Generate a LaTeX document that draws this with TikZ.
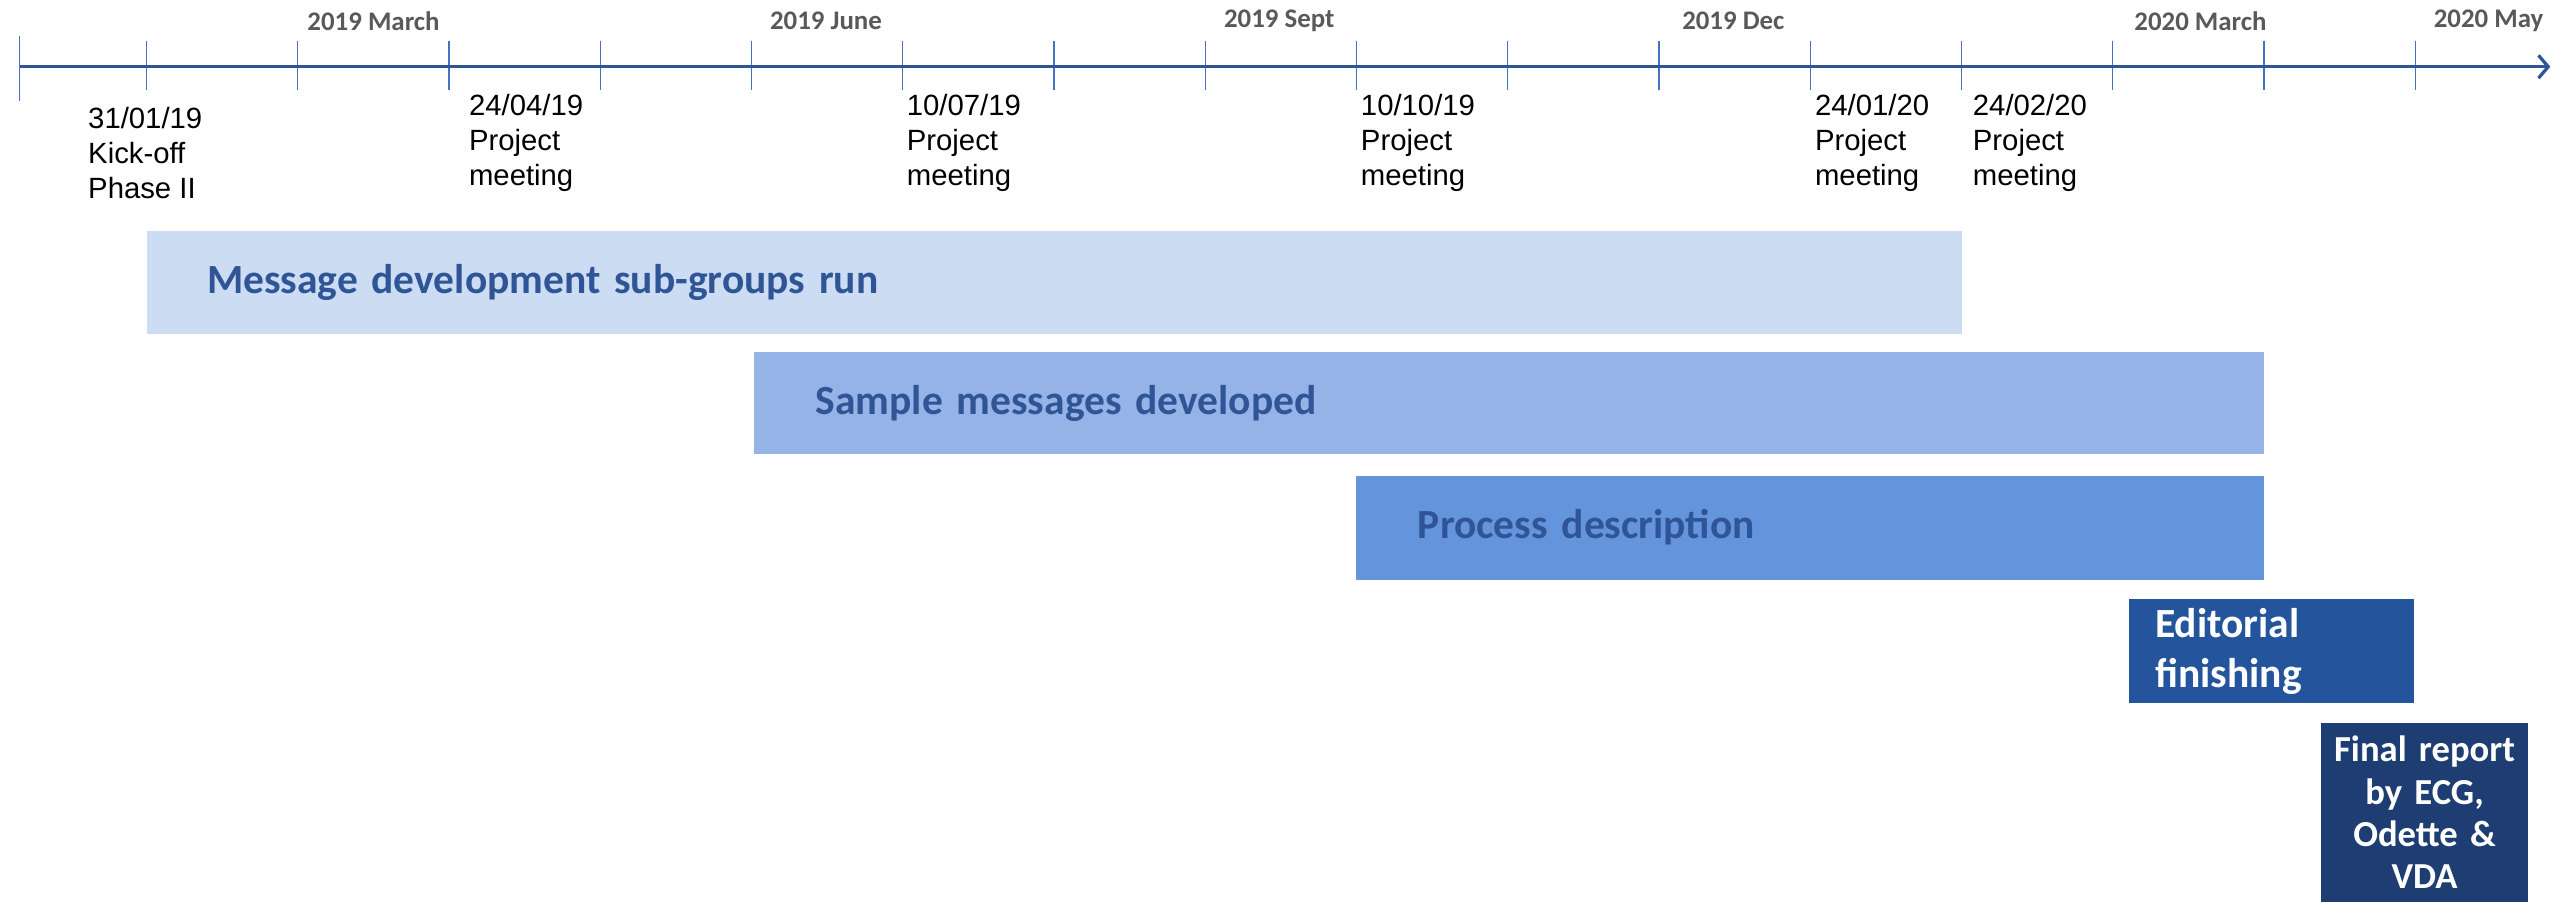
\documentclass[tikz,border=0pt]{standalone}
\usepackage{fontspec}
\setmainfont{Liberation Sans}
\newfontfamily\calibri{Carlito}
\usetikzlibrary{arrows.meta, positioning}

\definecolor{axisblue}{HTML}{2F5597}
\definecolor{tickblue}{HTML}{4472C4}
\definecolor{monthgray}{HTML}{595959}
\definecolor{barone}{HTML}{CCDCF2}
\definecolor{bartwo}{HTML}{95B3E6}
\definecolor{barthree}{HTML}{6495DC}
\definecolor{barfour}{HTML}{24549C}
\definecolor{barfive}{HTML}{1E3E73}
\definecolor{bartext}{HTML}{2F5597}

\begin{document}
\begin{tikzpicture}[
  x=1pt, y=-1pt,
  month/.style={font=\calibri\bfseries\fontsize{16.5}{18}\selectfont, text=monthgray, inner sep=0pt},
  milestone/.style={anchor=north west, align=left, inner sep=0pt, font=\fontsize{18}{21.5}\selectfont},
  bar/.style={anchor=north west, minimum height=63pt, inner xsep=37pt, inner ysep=0pt, align=left, font=\calibri\bfseries\fontsize{25.5}{31}\selectfont, text=bartext},
  monthtick/.style={tickblue, line width=0.7pt},
  timeaxis/.style={axisblue, line width=2pt, -{Straight Barb[length=6pt, width=14pt]}}
]

\useasboundingbox (0,0) rectangle (1568,554);

\def\gap{92.93}

% Axis
\coordinate (start) at (12,41);
\coordinate (end) at (1567,41);
\draw[monthtick] (12,22) -- (12,62);
\foreach \i in {0,...,15} {
  \draw[monthtick] ({90+\i*\gap},25) -- ({90+\i*\gap},55);
}
\draw[timeaxis] (start) -- (end);

% Months
\node[month] (mar19) at (229.5,13) {2019 March};
\node[month] (jun19) at (507.5,13) {2019 June};
\node[month] (sep19) at (786,13) {2019 Sept};
\node[month] (dec19) at (1065,13) {2019 Dec};
\node[month] (mar20) at (1352,13) {2020 March};
\node[month] (may20) at (1529,13) {2020 May};

% Milestones
\node[milestone] (kickoff) at (54,66) {31/01/19\\Kick-off\\Phase II};
\node[milestone] (meet1) at (288,58) {24/04/19\\Project\\meeting};
\node[milestone] (meet2) at (557,58) {10/07/19\\Project\\meeting};
\node[milestone] (meet3) at (836,58) {10/10/19\\Project\\meeting};
\node[milestone] (meet4) at (1115,58) {24/01/20\\Project\\meeting};
\node[milestone] (meet5) at (1212,58) {24/02/20\\Project\\meeting};

% Bars
\node[bar, fill=barone, text width=1041pt] (subgroups) at (90,142) {Message development sub-groups run};
\node[bar, fill=bartwo, text width=852pt, inner xsep=38pt] (samples) at (463,216) {Sample messages developed};
\node[bar, fill=barthree, text width=482pt, minimum height=64pt, inner xsep=38pt] (process) at (833,292) {Process description};
\node[bar, fill=barfour, text=white, text width=143pt, minimum height=64pt, inner xsep=16pt] (editorial) at (1308,368) {Editorial\\finishing};
\node[bar, fill=barfive, text=white, text width=127pt, minimum height=110pt, inner xsep=0pt, align=center, font=\calibri\bfseries\fontsize{22.5}{26}\selectfont] (final) at (1426,444) {Final report\\by ECG,\\Odette \&\\VDA};

\end{tikzpicture}
\end{document}
